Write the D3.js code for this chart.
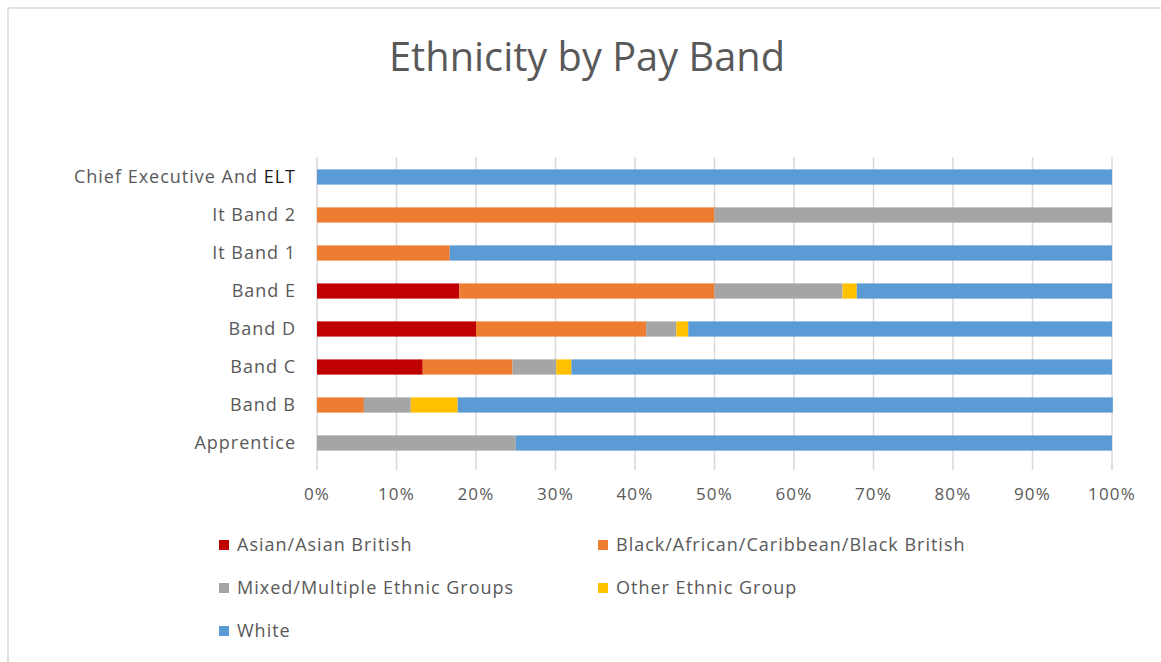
<!DOCTYPE html>
<html lang="en">
<head>
  <meta charset="utf-8">
  <title>Ethnicity by Pay Band</title>
  <script src="https://d3js.org/d3.v7.min.js"></script>
  <style>
    body { margin: 0; background: #fff; }
    text { font-family: "Open Sans", sans-serif; fill: #595959; }
  </style>
</head>
<body>
<script>
// pay bands, top to bottom
var bands = ["Chief Executive And ELT", "It Band 2", "It Band 1", "Band E", "Band D", "Band C", "Band B", "Apprentice"];

var groups = ["Asian/Asian British", "Black/African/Caribbean/Black British",
  "Mixed/Multiple Ethnic Groups", "Other Ethnic Group", "White"];
var colours = ["#c00000", "#ed7d31", "#a5a5a5", "#ffc000", "#5b9bd5"];

// percent of each band
var asian  = [0,   0,    0,    17.9, 20.0, 13.3, 0,    0];
var black  = [0,   50,   16.7, 32.1, 21.4, 11.3, 5.9,  0];
var mixed  = [0,   50,   0,    16.1, 3.8,  5.5,  5.9,  25];
var other  = [0,   0,    0,    1.8,  1.5,  1.9,  5.9,  0];
var white  = [100, 0,    83.3, 32.1, 53.3, 68.0, 82.4, 75];

var ticks = [0, 10, 20, 30, 40, 50, 60, 70, 80, 90, 100];

var W = 1161, H = 662;

var svg = d3.select("body").append("svg")
  .attr("width", W)
  .attr("height", H);

// chart frame edges
svg.append("line").attr("x1", 8).attr("y1", 8).attr("x2", W).attr("y2", 8)
  .attr("stroke", "#d9d9d9").attr("stroke-width", 1.5);
svg.append("line").attr("x1", 8).attr("y1", 8).attr("x2", 8).attr("y2", H)
  .attr("stroke", "#d9d9d9").attr("stroke-width", 1.5);

svg.append("text")
  .attr("x", 587).attr("y", 71)
  .attr("text-anchor", "middle")
  .attr("font-size", 41)
  .attr("textLength", 396)
  .attr("lengthAdjust", "spacingAndGlyphs")
  .text("Ethnicity by Pay Band");

var x = d3.scaleLinear().domain([0, 100]).range([317, 1112]);
var y = d3.scaleBand().domain(bands).range([158, 462]).paddingInner(0.6).paddingOuter(0.3);

// gridlines
svg.append("g").selectAll("line")
  .data(ticks)
  .enter().append("line")
  .attr("x1", function(d) { return x(d); })
  .attr("x2", function(d) { return x(d); })
  .attr("y1", 157)
  .attr("y2", 470)
  .attr("stroke", "#d9d9d9")
  .attr("stroke-width", 1.5);

// tick labels
svg.append("g").selectAll("text")
  .data(ticks)
  .enter().append("text")
  .attr("x", function(d) { return x(d); })
  .attr("y", 500)
  .attr("text-anchor", "middle")
  .attr("font-size", 17)
  .attr("letter-spacing", 1.2)
  .text(function(d) { return d + "%"; });

// stack the series
var rows = bands.map(function(b, i) {
  return { band: b, 0: asian[i], 1: black[i], 2: mixed[i], 3: other[i], 4: white[i] };
});
var stack = d3.stack().keys([0, 1, 2, 3, 4])(rows);

svg.append("g").selectAll("g")
  .data(stack)
  .enter().append("g")
  .attr("fill", function(d) { return colours[d.key]; })
  .selectAll("rect")
  .data(function(d) { return d; })
  .enter().append("rect")
  .attr("x", function(d) { return x(d[0]); })
  .attr("y", function(d) { return y(d.data.band); })
  .attr("width", function(d) { return x(d[1]) - x(d[0]); })
  .attr("height", y.bandwidth());

// category labels
var labels = svg.append("g").selectAll("text")
  .data(bands)
  .enter().append("text")
  .attr("x", 296)
  .attr("y", function(d) { return y(d) + y.bandwidth() / 2; })
  .attr("dy", "0.35em")
  .attr("text-anchor", "end")
  .attr("font-size", 18)
  .attr("letter-spacing", 1);

labels.each(function(d) {
  var t = d3.select(this);
  if (d.slice(-4) === " ELT") {
    t.append("tspan").text(d.slice(0, -3));
    t.append("tspan").style("fill", "#1a1a1a").text("ELT");
  } else {
    t.text(d);
  }
});

// legend
var legend = svg.append("g").selectAll("g")
  .data(groups)
  .enter().append("g")
  .attr("transform", function(d, i) {
    return "translate(" + (i % 2 === 0 ? 219 : 598) + "," + (545 + Math.floor(i / 2) * 43) + ")";
  });

legend.append("rect")
  .attr("x", 0).attr("y", -5)
  .attr("width", 10).attr("height", 10)
  .attr("fill", function(d, i) { return colours[i]; });

legend.append("text")
  .attr("x", 18)
  .attr("dy", "0.35em")
  .attr("font-size", 18)
  .attr("letter-spacing", 1)
  .text(function(d) { return d; });
</script>
</body>
</html>
